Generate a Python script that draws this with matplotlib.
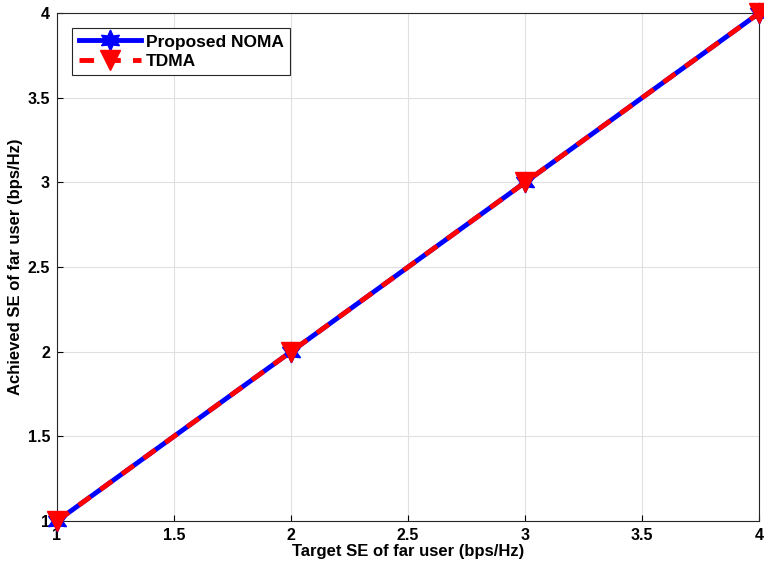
import numpy as np
import matplotlib.pyplot as plt

target_se = [1, 2, 3, 4]
noma_se = [1, 2, 3, 4]
tdma_se = [1, 2, 3, 4]

xticks = [1, 1.5, 2, 2.5, 3, 3.5, 4]
xticklabels = ['1', '1.5', '2', '2.5', '3', '3.5', '4']

plt.rcParams['font.family'] = ['Liberation Sans', 'DejaVu Sans']
plt.rcParams['font.weight'] = 'bold'

fig = plt.figure(figsize=(7.64, 5.70), dpi=100)
ax = fig.add_axes([0.0746, 0.086, 0.919, 0.891])

# six-pointed star for NOMA, downward triangle for TDMA
ax.plot(target_se, noma_se, color='blue', linewidth=3.5, marker=(6, 1, 0),
        markersize=15, label='Proposed NOMA', clip_on=False, zorder=3)
ax.plot(target_se, tdma_se, color='red', linewidth=3.5, linestyle=(0, (3, 2.5)),
        marker='v', markersize=15, label='TDMA', clip_on=False, zorder=4)

ax.set_xlim(1, 4)
ax.set_ylim(1, 4)
ax.set_xticks(xticks)
ax.set_xticklabels(xticklabels)
ax.set_yticks(xticks)
ax.set_yticklabels(xticklabels)
ax.tick_params(labelsize=11.5, direction='in', length=4, width=0.8, pad=5)
for lab in ax.get_xticklabels() + ax.get_yticklabels():
    lab.set_fontweight('bold')

ax.grid(True, color='#e0e0e0', linewidth=0.8)
ax.set_axisbelow(True)
for s in ax.spines.values():
    s.set_linewidth(0.8)
    s.set_color('#262626')

ax.set_xlabel('Target SE of far user (bps/Hz)', fontsize=12, fontweight='bold', labelpad=1)
ax.set_ylabel('Achieved SE of far user (bps/Hz)', fontsize=12, fontweight='bold', labelpad=3)

leg = ax.legend(loc='upper left', bbox_to_anchor=(0.022, 0.97),
                prop={'weight': 'bold', 'size': 12.5}, fancybox=False,
                edgecolor='#262626', framealpha=1, handlelength=3.6,
                borderpad=0.35, labelspacing=0.25, handletextpad=0.3,
                borderaxespad=0)
leg.get_frame().set_linewidth(0.8)

fig.savefig('out.png', dpi=100)
